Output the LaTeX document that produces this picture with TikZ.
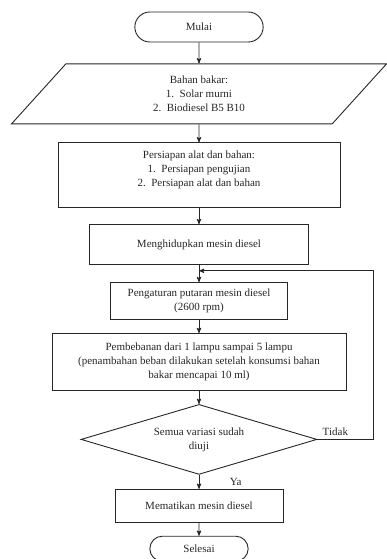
\documentclass[tikz,border=0pt]{standalone}
\usepackage{fontspec}
\setmainfont{Liberation Serif}
\usetikzlibrary{arrows,shapes.geometric,shapes.misc,positioning,calc}
\tikzset{node distance=13pt, % Gap between two steps. Changed per node below.
        every node/.style={ % Text of every step
            font=\fontsize{11}{14}\selectfont,
            text=black!85},
        terminal/.style={ % Start and end
            rounded rectangle, draw=black!85, line width=0.9pt,
            minimum height=30pt},
        proses/.style={ % Plain step
            rectangle, draw=black!85, line width=0.9pt,
            align=center, inner sep=2pt},
        masukan/.style={ % Input (parallelogram)
            trapezium, trapezium left angle=38, trapezium right angle=142,
            trapezium stretches body,
            draw=black!85, line width=0.9pt, align=center},
        keputusan/.style={ % Decision
            diamond, aspect=3.4, inner sep=0pt,
            draw=black!85, line width=0.9pt, align=center},
        every edge/.style={ % Connectors
            draw=black!85,
            ->,>=stealth', % Filled arrow heads
            line width=0.9pt}
        }

\begin{document}
\begin{tikzpicture}
    \useasboundingbox (0,0) rectangle (386pt,-559pt);

    \node[terminal, minimum width=135pt]                     (mulai) at (199pt,-27pt) {Mulai};
    \node[masukan, minimum width=375pt, minimum height=60pt] (bahan) [below=21pt of mulai]
        {Bahan bakar:\\1.\ \ Solar murni\\2.\ \ Biodiesel B5 B10};
    \node[proses, minimum width=282pt, minimum height=65pt]  (persiapan) [below=18pt of bahan]
        {Persiapan alat dan bahan:\\1.\ \ Persiapan pengujian\\2.\ \ Persiapan alat dan bahan\\\mbox{}};
    \node[proses, minimum width=219pt, minimum height=40pt]  (hidup) [below=16pt of persiapan]
        {Menghidupkan mesin diesel};
    \node[proses, minimum width=177pt, minimum height=37pt]  (putaran) [below=17pt of hidup]
        {Pengaturan putaran mesin diesel\\(2600 rpm)};
    \node[proses, minimum width=294pt, minimum height=57pt]  (beban) [below=of putaran]
        {Pembebanan dari 1 lampu sampai 5 lampu\\(penambahan beban dilakukan setelah konsumsi bahan\\bakar mencapai 10 ml)};
    \node[keputusan, minimum width=236pt, minimum height=70pt] (cek) [below=of beban]
        {Semua variasi sudah\\diuji};
    \node[proses, minimum width=168pt, minimum height=33pt]  (mati) [below=14pt of cek]
        {Mematikan mesin diesel};
    \node[terminal, minimum width=105pt, minimum height=25pt] (selesai) [below=of mati] {Selesai};

    \coordinate (balik) at ($(hidup.south)!0.33!(putaran.north)$);

    \draw
        (mulai)     edge (bahan)
        (bahan)     edge (persiapan)
        (persiapan) edge (hidup)
        (hidup)     edge (putaran)
        (putaran)   edge (beban)
        (beban)     edge (cek)
        (cek)       edge node[right=27pt] {Ya} (mati)
        (mati)      edge (selesai);

    \draw[draw=black!85, ->, >=stealth', line width=0.9pt]
        (cek.east) -- node[above, pos=0.32] {Tidak} ++(56pt,0) |- (balik);
\end{tikzpicture}
\end{document}
